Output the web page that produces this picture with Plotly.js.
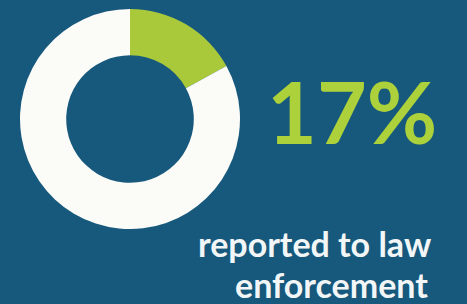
<!DOCTYPE html>
<html>
<head>
<meta charset="utf-8">
<script src="https://cdn.plot.ly/plotly-3.0.1.min.js"></script>
<style>html,body{margin:0;padding:0;background:#17597d;}#chart{width:467px;height:304px;}</style>
</head>
<body>
<div id="chart"></div>
<script>
const labels = ["Reported to law enforcement", "Not reported"];
const values = [17, 83];
const sliceColors = ["#a9c93a", "#fbfbf8"];
const headline = "17%";
const captionLines = ["reported to law", "enforcement"];

const W = 467, H = 304;
const data = [{
  type: "pie",
  labels: labels,
  values: values,
  hole: 0.58,
  sort: false,
  direction: "clockwise",
  rotation: 0,
  textinfo: "none",
  hoverinfo: "none",
  marker: {colors: sliceColors, line: {width: 0}},
  domain: {x: [20/W, 240/W], y: [1 - 229/H, 1 - 9/H]},
  showlegend: false
}];
const layout = {
  width: W, height: H,
  margin: {l: 0, r: 0, t: 0, b: 0},
  paper_bgcolor: "#17597d",
  plot_bgcolor: "#17597d",
  showlegend: false,
  annotations: [
    {text: "<b>" + headline + "</b>", x: 352/W, y: 1 - 111/H, xref: "paper", yref: "paper",
     xanchor: "center", yanchor: "middle", showarrow: false,
     font: {family: "Lato", size: 86, color: "#acd13a"}},
    {text: "<b>" + captionLines[0] + "</b>", x: 314/W, y: 1 - 243/H, xref: "paper", yref: "paper",
     xanchor: "center", yanchor: "middle", showarrow: false,
     font: {family: "Lato", size: 34, color: "#f2f6f7"}},
    {text: "<b>" + captionLines[1] + "</b>", x: 331/W, y: 1 - 284/H, xref: "paper", yref: "paper",
     xanchor: "center", yanchor: "middle", showarrow: false,
     font: {family: "Lato", size: 34, color: "#f2f6f7"}}
  ]
};
Plotly.newPlot("chart", data, layout, {staticPlot: true, displayModeBar: false});
</script>
</body>
</html>
